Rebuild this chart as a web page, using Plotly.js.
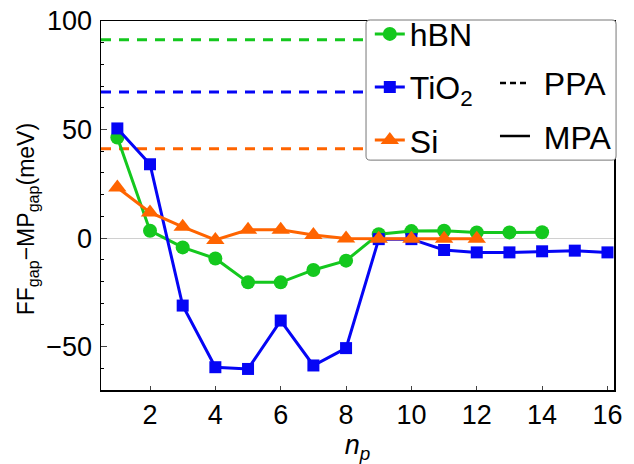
<!DOCTYPE html>
<html>
<head>
<meta charset="utf-8">
<script src="https://cdn.plot.ly/plotly-3.0.1.min.js"></script>
<style>body{margin:0;padding:0;background:#fff}#chart{width:634px;height:464px}</style>
</head>
<body>
<div id="chart"></div>
<script>
// Data
const npHBN  = [1,2,3,4,5,6,7,8,9,10,11,12,13,14];
const hBN    = [46.3,3.4,-4.3,-9.4,-20.4,-20.4,-14.7,-10.4,1.8,3.2,3.4,2.6,2.6,2.7];
const npTiO2 = [1,2,3,4,5,6,7,8,9,10,11,12,13,14,15,16];
const TiO2   = [50.5,34,-31.1,-59.5,-60.3,-38,-58.7,-50.7,-0.5,-0.5,-5.5,-6.6,-6.6,-6.1,-5.8,-6.6];
const npSi   = [1,2,3,4,5,6,7,8,9,10,11,12];
const Si     = [23.3,11.8,5.2,-0.9,3.8,3.8,1.4,-0.2,-0.3,-0.3,-0.3,-0.3];
const ppaNames  = ['hBN','TiO2','Si'];
const ppaValues = [91.4,67.3,41.1];
const xTicks = [2,4,6,8,10,12,14,16];
const yTicks = [-50,0,50,100];

const colors = {hBN:'#14c81e', TiO2:'#0505f5', Si:'#ff6400'};
const FONT = 'Arial, Liberation Sans, sans-serif';

const traces = [
  {x:npHBN, y:hBN, name:'hBN', mode:'lines+markers', legendgroup:'a',
   line:{color:colors.hBN,width:3}, marker:{symbol:'circle',size:14,color:colors.hBN}},
  {x:npTiO2, y:TiO2, name:'TiO<sub>2</sub>', mode:'lines+markers', legendgroup:'b',
   line:{color:colors.TiO2,width:3}, marker:{symbol:'square',size:12,color:colors.TiO2}},
  {x:npSi, y:Si, name:'Si', mode:'lines+markers', legendgroup:'c',
   line:{color:colors.Si,width:3}, marker:{symbol:'triangle-up',size:16,color:colors.Si}},
  {x:[null], y:[null], name:' PPA', mode:'lines', legend:'legend2', legendgroup:'d',
   line:{color:'#000',width:2.5,dash:'6px,4px'}},
  {x:[null], y:[null], name:' MPA', mode:'lines', legend:'legend2', legendgroup:'e',
   line:{color:'#000',width:2.5}}
];

const shapes = ppaValues.map((v,i)=>({
  type:'line', xref:'paper', x0:0, x1:1, yref:'y', y0:v, y1:v, layer:'below',
  line:{color:colors[ppaNames[i]], width:3, dash:'10px,8px'}
}));
// rounded legend box
(function(){
  const x0=0.5166, x1=1.004, y0=0.623, y1=1.0027, rx=0.008, ry=0.011;
  const p = `M ${x0+rx},${y0} L ${x1-rx},${y0} Q ${x1},${y0} ${x1},${y0+ry} L ${x1},${y1-ry} Q ${x1},${y1} ${x1-rx},${y1} L ${x0+rx},${y1} Q ${x0},${y1} ${x0},${y1-ry} L ${x0},${y0+ry} Q ${x0},${y0} ${x0+rx},${y0} Z`;
  shapes.push({type:'path', xref:'paper', yref:'paper', path:p, layer:'above',
    fillcolor:'#fff', line:{color:'#777', width:1}});
})();

const layout = {
  width:634, height:464,
  margin:{l:101, r:20, t:21, b:74, autoexpand:false},
  paper_bgcolor:'#fff', plot_bgcolor:'#fff',
  font:{family:FONT, size:27, color:'#000'},
  showlegend:true,
  legend:{x:0.524, y:1.039, xanchor:'left', yanchor:'top', bgcolor:'rgba(0,0,0,0)',
    borderwidth:0, tracegroupgap:8.5, font:{size:32}},
  legend2:{x:0.768, y:0.906, xanchor:'left', yanchor:'top', bgcolor:'rgba(0,0,0,0)',
    borderwidth:0, tracegroupgap:8.5, font:{size:32}},
  xaxis:{range:[0.5,16.2], tickvals:xTicks, ticks:'inside', ticklen:4, tickwidth:1,
    showline:true, linecolor:'#000', linewidth:1.5, mirror:true, showgrid:false, zeroline:false,
    tickfont:{size:27},
    title:{text:'<i>n</i><sub><i>p</i></sub>', font:{size:27}, standoff:8}},
  yaxis:{range:[-70,100], tickvals:yTicks, ticks:'inside', ticklen:6, tickwidth:1,
    minor:{dtick:10, ticks:'inside', ticklen:3, tickcolor:'#000'},
    showline:true, linecolor:'#000', linewidth:1.5, mirror:true, showgrid:false,
    zeroline:true, zerolinecolor:'#d0d0d0', zerolinewidth:1,
    tickfont:{size:27}, ticklabelstandoff:2},
  annotations:[{text:'FF<sub>gap</sub>−MP<sub>gap</sub>(meV)', textangle:-90,
    xref:'paper', yref:'paper', x:-0.144, y:0.463, xanchor:'center', yanchor:'middle',
    showarrow:false, font:{size:23}}],
  shapes:shapes
};

Plotly.newPlot('chart', traces, layout, {displayModeBar:false, staticPlot:true});
</script>
</body>
</html>
